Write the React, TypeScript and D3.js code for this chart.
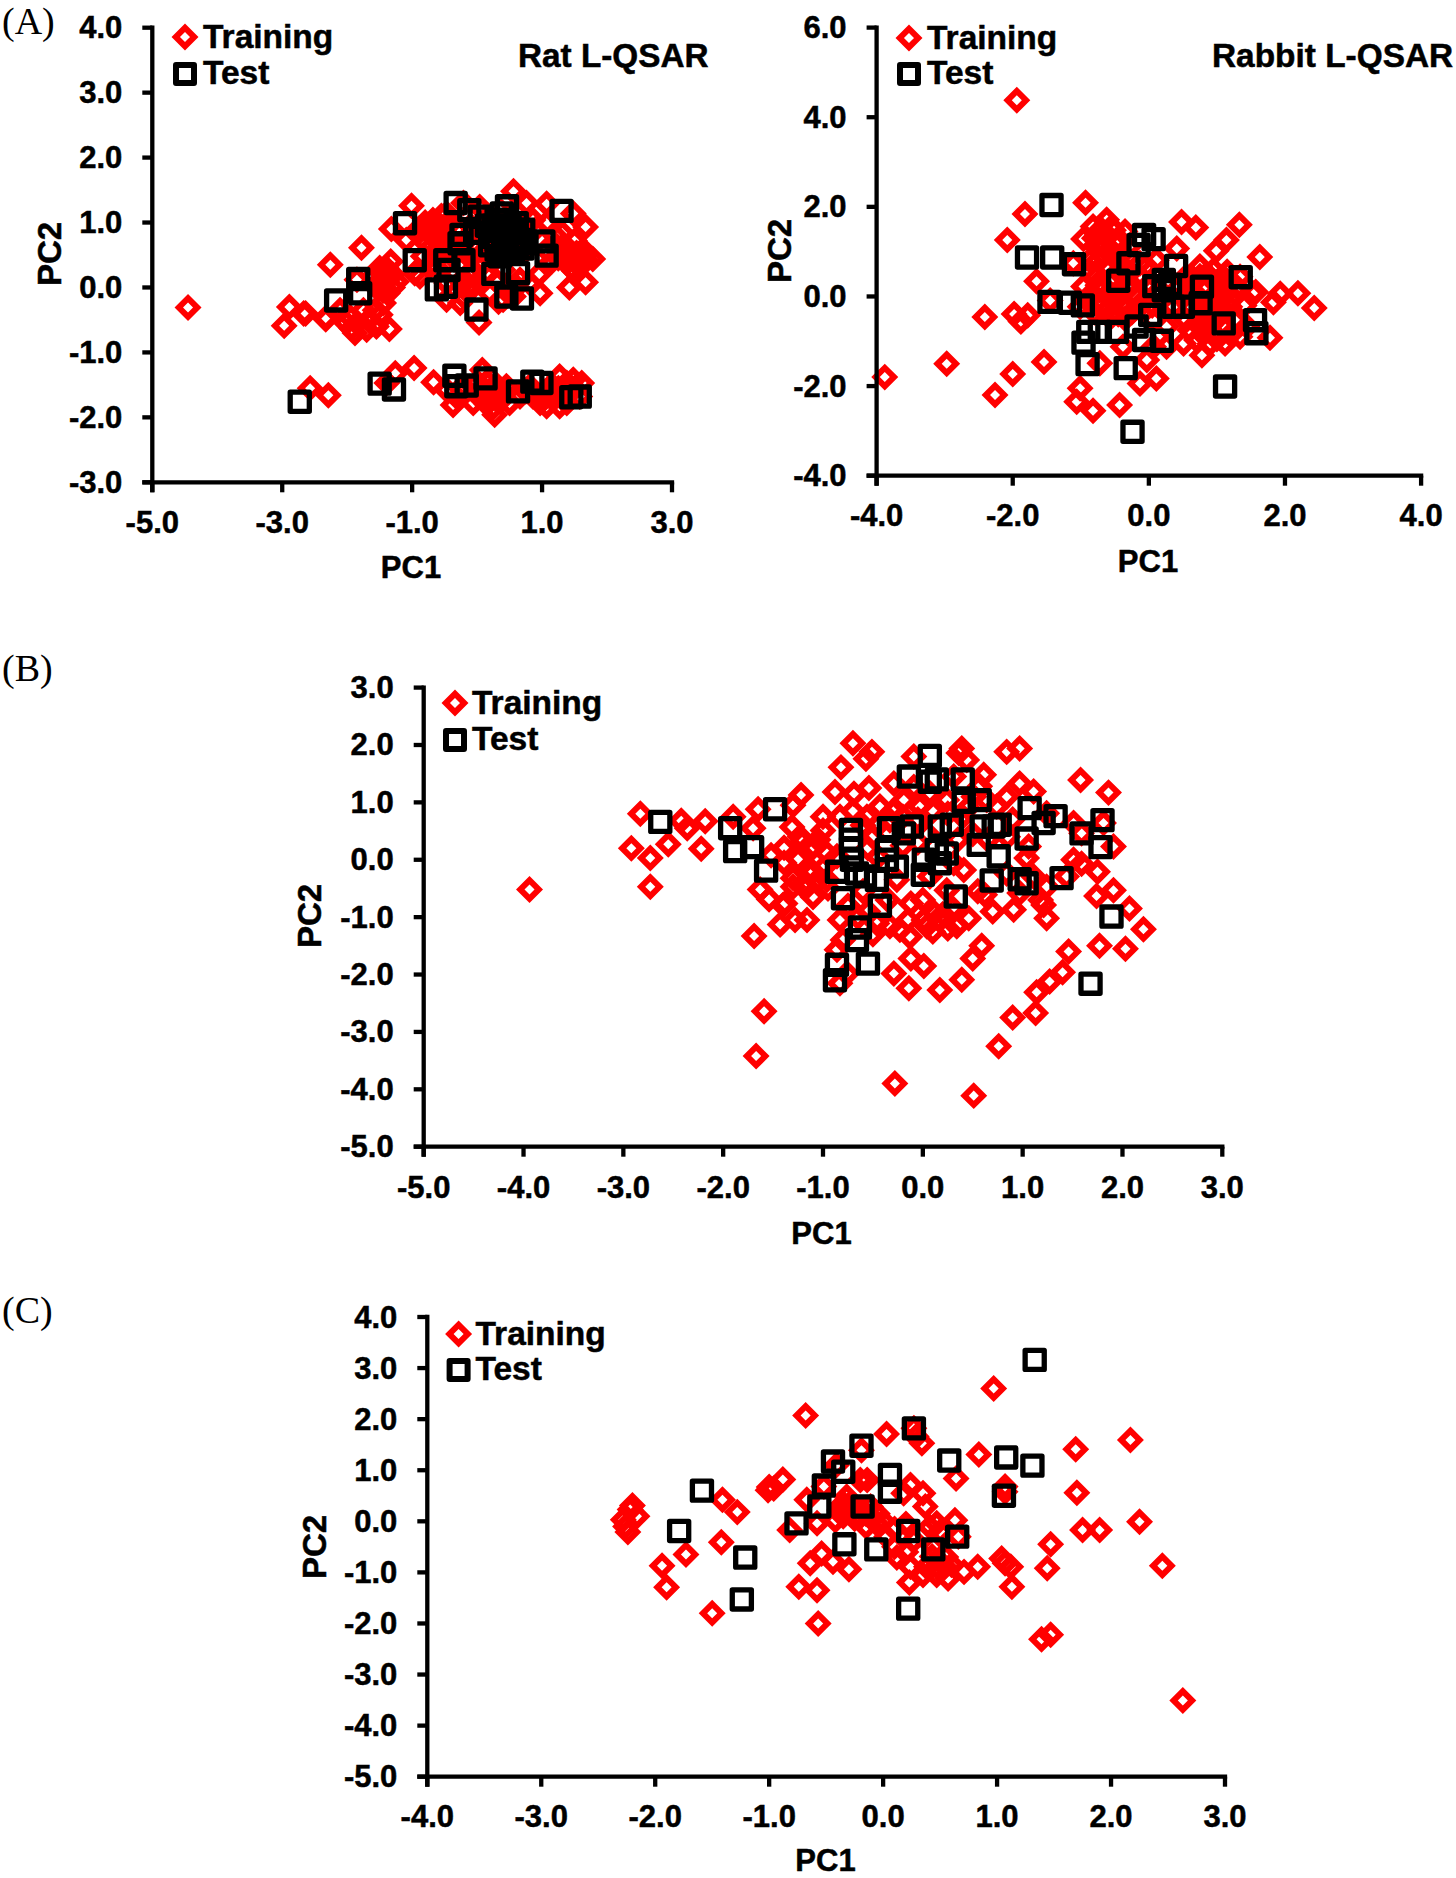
import React from "react";
import * as d3 from "d3";

type P = [number, number];

const ratTraining: P[] = [[-4.45,-0.31],[-2.89,-0.30],[-2.97,-0.59],[-2.67,-0.40],[-2.33,-0.49],[-2.26,0.35],[-1.78,0.61],[-2.64,-0.40],[-2.33,-0.47],[-1.93,-0.63],[-1.67,-0.50],[-1.49,-0.42],[-1.35,-0.64],[-1.44,-0.24],[-1.38,-0.09],[-1.42,0.07],[-1.37,0.22],[-1.33,0.40],[-1.24,0.09],[-1.60,0.17],[-1.85,0.12],[-2.06,-0.50],[-1.96,-0.45],[-2.11,-0.35],[-1.88,-0.70],[-1.57,-0.35],[-1.01,1.26],[-1.32,0.90],[-1.09,0.73],[-0.96,0.22],[-0.88,0.17],[-0.83,0.94],[-0.68,1.04],[-0.62,0.78],[-0.78,0.68],[-0.93,0.84],[-0.57,0.48],[-0.47,1.14],[-0.21,1.30],[0.04,1.24],[-0.16,0.73],[-0.32,0.89],[-0.83,0.48],[-0.70,0.63],[-0.47,0.07],[-0.47,-0.19],[-0.26,-0.24],[-0.11,0.17],[-0.06,0.01],[-0.21,-0.14],[0.04,0.07],[0.20,-0.09],[0.33,-0.22],[0.03,-0.54],[0.56,1.48],[0.56,1.04],[0.35,1.19],[0.76,1.30],[1.07,1.29],[0.86,1.04],[1.07,0.99],[1.48,1.14],[1.67,0.93],[1.31,0.84],[1.50,0.72],[1.63,0.58],[1.78,0.44],[1.68,0.42],[1.43,0.42],[1.53,0.53],[1.38,0.53],[1.58,0.32],[1.42,0.0],[1.67,0.08],[0.97,-0.09],[0.56,-0.14],[0.81,0.07],[0.66,0.12],[0.40,0.27],[0.50,0.48],[0.76,0.58],[1.07,0.58],[1.22,0.63],[0.10,0.37],[0.30,0.78],[0.0,0.63],[-0.26,0.37],[0.61,0.01],[0.40,-0.19]];
const ratTrainingDense: P[] = [[-0.9,0.9],[-0.8,1.0],[-0.75,0.85],[-0.7,0.95],[-0.6,0.95],[-0.55,1.1],[-0.5,0.85],[-0.45,0.95],[-0.4,1.05],[-0.35,0.7],[-0.55,0.65],[-0.65,0.55],[-0.72,0.35],[-0.62,0.3],[-0.5,0.55],[-0.4,0.5],[-0.3,0.55],[-0.2,0.55],[-0.1,0.45],[0.0,0.35],[0.1,0.55],[0.2,0.5],[-0.1,0.95],[0.05,0.85],[0.15,1.0],[0.25,1.1],[0.15,0.7],[-0.05,0.25],[0.15,0.2],[0.3,0.1],[-0.35,0.2],[-0.25,0.1],[-0.15,0.0],[-1.5,0.1],[-1.45,0.2],[-1.5,0.3],[-1.4,0.3],[-1.3,0.2],[-1.3,0.0],[-1.45,-0.05],[-1.55,0.0],[-1.75,-0.35],[-1.85,-0.55],[-1.7,-0.65],[-1.55,-0.6],[1.45,0.3],[1.55,0.42],[1.65,0.5],[1.4,0.6],[1.35,0.45],[1.5,0.25],[1.25,0.45],[1.15,0.4],[1.2,0.8],[0.9,0.9],[0.95,0.2]];
const ratTrainingLower: P[] = [[-0.97,-1.24],[-1.26,-1.32],[-1.39,-1.47],[-0.67,-1.46],[-0.37,-1.81],[-0.47,-1.58],[-0.06,-1.52],[0.08,-1.27],[0.27,-1.96],[0.10,-1.73],[0.30,-1.73],[0.20,-1.58],[0.45,-1.52],[0.50,-1.78],[0.66,-1.68],[0.86,-1.68],[0.97,-1.78],[1.27,-1.37],[1.48,-1.42],[1.61,-1.47],[1.17,-1.68],[1.38,-1.78],[1.58,-1.68],[1.38,-1.47],[1.07,-1.83],[1.27,-1.83],[0.81,-1.52],[-0.06,-1.78],[-2.57,-1.55],[-2.29,-1.66],[0.0,-1.45],[0.05,-1.6],[0.0,-1.65],[0.15,-1.45],[0.15,-1.8],[0.25,-1.85],[0.35,-1.6],[0.4,-1.7],[0.2,-1.7],[0.3,-1.5],[-0.3,-1.7],[-0.25,-1.55],[1.05,-1.6],[1.15,-1.5],[1.25,-1.55],[1.35,-1.65],[1.45,-1.6],[1.5,-1.55],[1.0,-1.7],[0.75,-1.6]];
const ratTest: P[] = [[-1.11,0.99],[-0.33,1.30],[-0.12,1.19],[0.04,1.09],[0.46,1.25],[1.30,1.18],[-0.96,0.42],[-1.83,0.13],[-1.80,-0.09],[-2.17,-0.20],[-0.62,-0.03],[-0.48,0.01],[-0.49,0.42],[-0.44,0.27],[-0.21,0.42],[-0.24,0.81],[-0.03,0.84],[-0.27,0.68],[-0.01,-0.34],[0.25,0.21],[0.63,0.22],[0.45,-0.14],[0.69,-0.17],[1.07,0.49],[1.02,0.71],[0.71,0.89],[0.30,1.04],[0.46,1.04],[0.61,0.99],[0.35,0.89],[0.50,0.84],[0.66,0.73],[0.30,0.73],[0.46,0.68],[0.61,0.63],[0.30,0.58],[0.46,0.53],[0.76,0.68],[0.35,0.48],[0.56,0.89],[0.38,1.14],[0.22,0.78],[0.15,0.95],[0.2,0.65],[0.4,0.95],[0.55,0.75],[0.4,0.6],[0.25,0.95],[0.55,0.55],[0.5,0.95],[0.7,0.6],[-1.50,-1.48],[-1.28,-1.57],[-0.35,-1.36],[-0.32,-1.52],[-0.16,-1.51],[0.13,-1.40],[0.63,-1.60],[0.85,-1.45],[0.99,-1.47],[1.45,-1.69],[1.58,-1.68],[-2.73,-1.76]];

const rabbitTraining: P[] = [[-1.94,4.38],[-3.88,-1.80],[-2.97,-1.50],[-2.41,-0.46],[-2.26,-2.20],[-2.0,-1.73],[-1.54,-1.46],[-2.08,1.26],[-1.82,1.84],[-1.65,0.34],[-1.98,-0.39],[-1.78,-0.42],[-1.88,-0.56],[2.43,-0.26],[2.19,0.07],[1.93,0.06],[1.83,-0.13],[1.78,-0.92],[1.63,0.88],[1.57,0.10],[1.33,1.60],[0.69,1.54],[0.48,1.66],[-0.93,2.09],[-1.01,-2.05],[-1.06,-2.35],[-0.82,-2.55],[-0.43,-2.42],[0.11,-1.83],[-0.13,-1.94],[-0.03,-1.42],[-0.38,-1.12],[-0.72,-1.49],[-0.82,1.56],[-0.62,1.71],[-0.96,1.28],[-0.52,1.48],[-0.43,1.26],[-0.77,1.11],[-0.62,1.34],[-0.87,0.81],[-0.67,0.89],[-0.52,0.96],[-1.11,0.74],[-0.77,0.44],[-0.96,0.22],[-0.72,0.14],[-0.52,0.37],[-0.91,-0.08],[-0.72,-0.23],[-0.52,-0.15],[-1.45,-0.09],[-1.01,-0.23],[-0.38,-0.23],[-0.18,0.0],[-0.03,0.22],[-0.33,0.22],[0.41,1.07],[1.14,1.26],[0.99,1.02],[1.34,0.44],[0.75,0.67],[0.95,0.59],[1.09,0.44],[0.85,0.22],[0.99,0.07],[1.14,0.29],[0.65,0.07],[0.46,0.22],[0.80,-0.23],[1.04,-0.30],[1.19,-0.23],[0.55,-0.53],[0.75,-0.67],[0.95,-0.82],[0.51,-1.05],[0.78,-1.31],[1.12,-1.05],[0.90,-1.05],[1.34,-0.90],[0.26,-1.12],[0.07,-1.12],[0.70,-0.97],[0.26,-0.67],[0.07,-0.53],[0.36,-0.23],[1.44,-0.67],[1.27,-0.53],[1.53,0.07],[-0.13,0.74],[-0.03,0.67],[0.11,0.81],[-0.43,0.74],[0.16,0.14]];
const rabbitTrainingDense: P[] = [[-0.8,1.3],[-0.75,0.8],[-0.7,1.5],[-0.65,1.15],[-0.6,0.65],[-0.55,1.55],[-0.5,1.2],[-0.45,0.55],[-0.4,0.95],[-0.35,1.45],[-0.3,1.1],[-0.3,0.5],[-0.25,0.25],[-0.85,0.55],[-0.75,0.25],[-0.65,0.2],[-0.6,0.05],[-0.5,0.05],[-0.4,0.1],[-0.85,0.05],[-0.8,-0.35],[-0.65,-0.35],[-0.55,-0.45],[-0.45,-0.4],[-0.35,-0.5],[-0.25,-0.35],[-0.15,-0.25],[-0.05,-0.05],[0.05,-0.2],[-0.1,0.4],[0.1,0.45],[0.55,0.45],[0.65,0.35],[0.75,0.45],[0.85,0.5],[0.95,0.35],[1.05,0.2],[1.15,0.1],[1.2,-0.05],[1.05,-0.1],[0.9,-0.1],[0.75,-0.1],[0.6,-0.2],[0.7,-0.4],[0.85,-0.45],[1.0,-0.5],[1.1,-0.65],[0.9,-0.65],[0.6,-0.75],[0.8,-0.85],[1.0,-0.95],[1.2,-0.85],[1.15,0.55],[1.3,0.2],[1.4,-0.2],[0.55,0.05]];
const rabbitTest: P[] = [[-1.43,2.04],[-1.79,0.87],[-1.42,0.87],[-1.10,0.72],[-1.46,-0.12],[-1.16,-0.14],[-0.97,-0.20],[-0.89,-0.79],[-0.96,-1.03],[-0.90,-1.51],[-0.34,-1.60],[-0.24,-3.02],[1.12,-2.01],[-0.07,1.37],[0.07,1.28],[-0.15,1.15],[-0.30,0.74],[-0.45,0.35],[0.08,0.23],[0.22,0.37],[0.40,0.68],[0.31,0.26],[0.78,0.22],[0.76,-0.15],[0.50,-0.23],[0.36,-0.23],[0.02,-0.41],[-0.18,-0.67],[-0.47,-0.79],[-0.72,-0.79],[-0.07,-0.97],[0.19,-0.99],[1.10,-0.60],[1.35,0.43],[1.56,-0.53],[1.58,-0.82],[0.22,0.14]];

const humanTraining: P[] = [[-3.94,-0.52],[-2.83,0.80],[-2.92,0.20],[-2.73,0.03],[-2.55,0.27],[-2.73,-0.47],[-2.42,0.68],[-2.36,0.55],[-2.18,0.67],[-2.22,0.19],[-1.90,0.75],[-1.65,0.88],[-1.70,0.55],[-1.22,1.13],[-1.30,0.95],[-1.31,0.57],[-1.0,0.51],[-1.39,0.21],[-1.21,0.31],[-1.12,0.18],[-1.25,0.01],[-1.52,0.08],[-1.39,-0.05],[-1.12,-0.21],[-1.30,-0.32],[-1.21,-0.45],[-1.10,-0.65],[-1.63,-0.52],[-1.54,-0.69],[-1.40,-0.79],[-1.43,-1.13],[-1.28,-1.05],[-1.16,-1.05],[-1.69,-1.33],[-1.59,-2.64],[-1.67,-3.42],[-0.28,-3.90],[-0.88,1.18],[-0.70,2.03],[-0.51,1.88],[-0.57,1.76],[-0.82,1.61],[-0.69,1.15],[-0.54,1.25]];
const humanTrainingRight: P[] = [[0.51,-4.11],[0.76,-3.25],[0.90,-2.75],[1.13,-2.67],[1.14,-2.31],[1.27,-2.12],[1.40,-1.96],[1.46,-1.60],[2.03,-1.55],[1.77,-1.50],[2.21,-1.21],[2.07,-0.85],[1.91,-0.53],[1.74,-0.63],[1.75,-0.21],[1.59,-0.07],[1.86,1.17],[1.58,1.39],[0.97,1.94],[0.84,1.88],[0.39,1.94],[0.36,1.86],[0.44,1.74],[-0.43,0.93],[-0.29,1.33],[-0.19,1.04],[-0.09,1.80],[-0.03,0.93],[0.61,1.48],[0.57,1.28],[0.97,1.33],[0.84,1.10],[1.11,1.19],[0.74,0.93],[1.24,0.81],[1.51,0.64],[1.06,0.23],[1.04,0.03],[1.59,0.46],[1.44,-0.29],[1.24,-0.47],[1.21,-0.79],[1.24,-1.02],[0.91,-0.87],[0.62,-0.61],[0.24,-0.53],[-0.12,-0.76],[0.46,-1.02],[0.34,-1.16],[0.12,-0.93],[0.04,-1.16],[0.17,-1.05],[0.01,-1.05],[-0.23,-1.22],[-0.13,-1.34],[-0.33,-1.16],[-0.46,-1.11],[-0.83,-1.05],[-0.80,-1.40],[-0.86,-1.57],[0.59,-1.50],[0.50,-1.72],[0.39,-2.09],[0.17,-2.27],[-0.14,-2.24],[-0.29,-1.98],[0.01,-1.85],[-0.12,-1.72],[-0.83,-2.15],[-0.76,-1.98],[-0.26,-0.35],[0.07,-0.29],[0.41,-0.18],[0.31,-0.06],[0.84,-0.24],[1.11,-0.29],[0.97,-0.58],[1.18,-0.70],[1.51,0.0],[1.91,0.23],[1.81,0.64],[-0.09,1.27],[0.07,1.16],[0.31,1.45],[0.51,1.10],[0.64,1.04],[0.24,1.04],[-0.33,0.69],[-0.56,0.75],[-0.83,0.75],[-0.96,0.11],[-0.96,-0.35],[-0.86,0.06],[-1.23,0.40],[-1.10,0.23],[-1.10,-0.21],[-1.30,-0.47],[-1.16,-0.47],[-1.38,-0.76]];
const humanTrainingDense: P[] = [[-1.05,0.35],[-1.0,-0.15],[-1.05,-0.35],[-0.95,-0.5],[-1.0,0.75],[-0.7,0.85],[-0.6,0.6],[-0.45,0.6],[-0.5,0.4],[-0.3,0.85],[-0.2,0.75],[-0.05,0.7],[0.1,0.85],[0.25,0.8],[0.4,0.75],[-0.55,0.2],[-0.45,0.05],[-0.2,0.25],[-0.05,0.3],[0.05,0.45],[0.35,0.35],[0.5,0.45],[0.65,0.35],[0.85,0.4],[0.9,0.7],[0.45,0.9],[-0.6,-0.55],[-0.75,-0.8],[-0.55,-0.9],[-0.35,-0.7],[0.0,-0.7],[0.3,-0.85],[0.25,-1.2],[0.1,-1.25],[0.2,-0.95],[-0.15,-1.05],[-0.5,-1.3],[-0.65,-1.0],[0.7,-0.9],[0.55,-0.55]];
const humanTest: P[] = [[0.07,1.81],[-0.14,1.45],[0.07,1.36],[0.14,1.40],[0.40,1.40],[0.41,1.01],[0.57,1.04],[1.07,0.90],[1.21,0.64],[1.33,0.76],[1.59,0.46],[1.80,0.69],[1.78,0.22],[1.89,-0.99],[1.68,-2.16],[1.39,-0.32],[1.04,-0.41],[0.97,-0.34],[0.69,-0.36],[0.33,-0.64],[0.76,0.06],[0.56,0.26],[1.04,0.37],[0.71,0.58],[0.77,0.61],[0.59,0.58],[0.29,0.61],[0.17,0.58],[-0.72,0.52],[-0.72,0.35],[-0.72,0.20],[-0.71,0.0],[-0.34,0.55],[-0.11,0.58],[-0.19,0.46],[-0.36,0.17],[-0.36,0.0],[-0.26,-0.12],[0.0,-0.26],[0.01,0.0],[0.17,-0.06],[0.24,0.11],[0.14,0.17],[-0.86,-0.21],[-0.66,-0.24],[-0.46,-0.35],[-0.58,-0.29],[-0.80,-0.67],[-0.43,-0.80],[-0.63,-1.18],[-0.66,-1.40],[-0.86,-1.83],[-0.88,-2.10],[-0.55,-1.81],[-2.63,0.66],[-1.48,0.88],[-1.93,0.55],[-1.88,0.15],[-1.71,0.22],[-1.57,-0.19]];

const mouseTraining: P[] = [[0.97,2.60],[-0.68,2.07],[0.03,1.71],[0.34,1.53],[0.29,1.66],[0.27,1.82],[0.84,1.31],[1.69,1.41],[2.17,1.59],[1.70,0.56],[1.07,0.58],[1.07,0.68],[0.64,0.84],[-0.19,1.39],[-0.41,1.10],[-0.88,0.82],[-0.96,0.64],[-1.01,0.61],[-0.20,0.81],[-0.14,0.81],[0.24,0.71],[0.35,0.55],[0.37,0.29],[0.18,0.55],[-0.52,0.68],[-0.67,0.42],[-0.29,0.35],[-0.38,0.22],[-0.32,0.48],[-0.20,0.09],[-0.06,-0.04],[-0.11,0.29],[-0.42,0.02],[-0.58,-0.04],[-0.82,-0.17],[0.03,-0.30],[0.27,-0.37],[0.41,-0.11],[0.63,0.02],[0.50,-0.20],[0.47,-0.04],[0.66,-0.30],[1.47,-0.45],[1.75,-0.17],[1.90,-0.17],[2.25,-0.01],[2.45,-0.87],[1.44,-0.92],[1.13,-1.28],[1.07,-0.82],[1.04,-0.73],[1.12,-0.89],[0.83,-0.89],[0.71,-0.99],[0.57,-1.12],[0.47,-1.05],[0.35,-1.05],[0.23,-1.20],[0.24,-0.89],[0.12,-0.71],[-0.30,-0.94],[-0.44,-0.79],[-0.54,-0.63],[-0.64,-0.82],[-0.74,-1.28],[-0.58,-1.35],[-0.57,-2.00],[1.39,-2.31],[1.47,-2.22],[2.63,-3.51],[0.44,-0.50],[0.38,-0.89],[0.43,-0.69],[0.54,-0.89],[0.47,-0.89],[-2.20,0.31],[-2.22,0.23],[-2.16,0.10],[-2.28,0.03],[-2.24,-0.21],[-2.26,-0.10],[-1.41,0.42],[-1.28,0.18],[-1.42,-0.41],[-1.73,-0.65],[-1.94,-0.87],[-1.90,-1.29],[-1.50,-1.80],[-1.0,0.67]];
const mouseTrainingDense: P[] = [[-0.3,0.2],[-0.25,0.05],[-0.35,0.1],[-0.2,0.25],[-0.15,0.15],[-0.1,0.05],[-0.25,0.3],[-0.35,0.35],[-0.05,0.15],[0.0,0.0],[-0.15,-0.1],[0.1,-0.15],[0.2,-0.05],[0.1,-0.5],[0.2,-0.6],[0.55,-0.7],[0.6,-0.85]];
const mouseTest: P[] = [[1.33,3.16],[0.27,1.82],[-0.19,1.48],[-0.44,1.17],[-0.35,0.97],[-0.52,0.70],[0.58,1.19],[1.08,1.25],[1.31,1.09],[1.06,0.50],[0.06,0.91],[0.06,0.58],[-0.56,0.29],[-0.18,0.29],[-0.76,-0.04],[-0.34,-0.45],[-0.06,-0.55],[0.22,-0.19],[0.65,-0.30],[0.44,-0.55],[0.22,-1.71],[-1.59,0.60],[-1.79,-0.19],[-1.21,-0.71],[-1.24,-1.53]];

const SANS = "'Liberation Sans', Arial, sans-serif";
const RED = "#ff0000";
const INK = "#000000";

const diamondPath = d3.symbol(d3.symbolSquare, 171)() as string;
const squarePath = d3.symbol(d3.symbolSquare, 365)() as string;
const legendSquarePath = d3.symbol(d3.symbolSquare, 324)() as string;
const DIAMOND_W = 6;
const SQUARE_W = 5.3;
const LEGEND_SQUARE_W = 6;

function Marks({ train, test, x, y }: { train: P[]; test: P[]; x: any; y: any }) {
  return (
    <g fill="none">
      {train.map((p, i) => (
        <path key={"t" + i} d={diamondPath} transform={`translate(${x(p[0])},${y(p[1])}) rotate(45)`} stroke={RED} strokeWidth={DIAMOND_W} />
      ))}
      {test.map((p, i) => (
        <path key={"s" + i} d={squarePath} transform={`translate(${x(p[0])},${y(p[1])})`} stroke={INK} strokeWidth={SQUARE_W} strokeLinejoin="round" />
      ))}
    </g>
  );
}

function Panel(props: {
  train: P[]; test: P[];
  xDomain: [number, number]; yDomain: [number, number];
  xRange: [number, number]; yRange: [number, number];
  xTicks: number[]; yTicks: number[];
  xLabelBase: number;
  pc1: [number, number]; pc2: [number, number];
  legend: [number, number, number, number];
  title?: string; titlePos?: [number, number]; titleSize?: number;
}) {
  const { train, test, xDomain, yDomain, xRange, yRange, xTicks, yTicks, xLabelBase, pc1, pc2, legend, title, titlePos, titleSize } = props;
  const x = d3.scaleLinear().domain(xDomain).range(xRange);
  const y = d3.scaleLinear().domain(yDomain).range(yRange);
  const f = d3.format(".1f");
  const [x0, x1] = xRange;
  const [yB, yT] = yRange;
  const sw = 4.3;
  const fmt = (v: number) => f(v).replace("\u2212", "-");
  const heavy = { stroke: INK, strokeWidth: 0.5 };
  return (
    <g fontFamily={SANS} fontWeight={700} fill={INK}>
      <Marks train={train} test={test} x={x} y={y} />
      <line x1={x0} x2={x0} y1={yT - sw / 2} y2={yB + 10} stroke={INK} strokeWidth={sw} />
      <line x1={x0 - 10} x2={x1 + sw / 2} y1={yB} y2={yB} stroke={INK} strokeWidth={sw} />
      {yTicks.map((t) => (
        <g key={"y" + t}>
          <line x1={x0 - 10} x2={x0} y1={y(t)} y2={y(t)} stroke={INK} strokeWidth={sw} />
          <text x={x0 - 30} y={y(t) + 10.5} textAnchor="end" fontSize={31} {...heavy}>{fmt(t)}</text>
        </g>
      ))}
      {xTicks.map((t) => (
        <g key={"x" + t}>
          <line x1={x(t)} x2={x(t)} y1={yB} y2={yB + 10} stroke={INK} strokeWidth={sw} />
          <text x={x(t)} y={xLabelBase} textAnchor="middle" fontSize={31} {...heavy}>{fmt(t)}</text>
        </g>
      ))}
      <text x={pc1[0]} y={pc1[1]} textAnchor="middle" fontSize={31} {...heavy}>PC1</text>
      <text transform={`translate(${pc2[0]},${pc2[1]}) rotate(-90)`} textAnchor="middle" fontSize={33} {...heavy}>PC2</text>
      <path d={diamondPath} transform={`translate(${legend[0]},${legend[1]}) rotate(45)`} fill="none" stroke={RED} strokeWidth={DIAMOND_W} />
      <path d={legendSquarePath} transform={`translate(${legend[0]},${legend[2]})`} fill="none" stroke={INK} strokeWidth={LEGEND_SQUARE_W} strokeLinejoin="round" />
      <text x={legend[3]} y={legend[1] + 11} fontSize={33.5} {...heavy}>Training</text>
      <text x={legend[3]} y={legend[2] + 10} fontSize={33.5} {...heavy}>Test</text>
      {title && titlePos ? <text x={titlePos[0]} y={titlePos[1]} fontSize={titleSize} {...heavy}>{title}</text> : null}
    </g>
  );
}

export default function App() {
  return (
    <svg width={1456} height={1878} viewBox="0 0 1456 1878" style={{ position: "absolute", left: 0, top: 0, display: "block", background: "#fff" }}>
      <g fontFamily="'Liberation Serif', 'Times New Roman', serif" fontSize={38} fill={INK}>
        <text x={2} y={34}>(A)</text>
        <text x={2} y={681}>(B)</text>
        <text x={2} y={1323}>(C)</text>
      </g>
      <Panel
        train={[...ratTraining, ...ratTrainingDense, ...ratTrainingLower]} test={ratTest}
        xDomain={[-5, 3]} yDomain={[-3, 4]} xRange={[152.3, 672]} yRange={[482.3, 27.7]}
        xTicks={[-5, -3, -1, 1, 3]} yTicks={[-3, -2, -1, 0, 1, 2, 3, 4]}
        xLabelBase={533} pc1={[411, 578]} pc2={[61, 254]} legend={[185, 37, 74, 203]}
        title="Rat L-QSAR" titlePos={[518, 67]} titleSize={33.3}
      />
      <Panel
        train={[...rabbitTraining, ...rabbitTrainingDense]} test={rabbitTest}
        xDomain={[-4, 4]} yDomain={[-4, 6]} xRange={[876.6, 1421.1]} yRange={[475.7, 27.6]}
        xTicks={[-4, -2, 0, 2, 4]} yTicks={[-4, -2, 0, 2, 4, 6]}
        xLabelBase={526} pc1={[1148, 572]} pc2={[791, 251]} legend={[909, 38, 74, 927]}
        title="Rabbit L-QSAR" titlePos={[1212, 67]} titleSize={33.4}
      />
      <Panel
        train={[...humanTraining, ...humanTrainingRight, ...humanTrainingDense]} test={humanTest}
        xDomain={[-5, 3]} yDomain={[-5, 3]} xRange={[423.7, 1222.3]} yRange={[1146.7, 687.6]}
        xTicks={[-5, -4, -3, -2, -1, 0, 1, 2, 3]} yTicks={[-5, -4, -3, -2, -1, 0, 1, 2, 3]}
        xLabelBase={1198} pc1={[821.5, 1244]} pc2={[321, 916]} legend={[455, 703, 740, 472]}
      />
      <Panel
        train={[...mouseTraining, ...mouseTrainingDense]} test={mouseTest}
        xDomain={[-4, 3]} yDomain={[-5, 4]} xRange={[427.3, 1225]} yRange={[1776.7, 1317]}
        xTicks={[-4, -3, -2, -1, 0, 1, 2, 3]} yTicks={[-5, -4, -3, -2, -1, 0, 1, 2, 3, 4]}
        xLabelBase={1827} pc1={[825.5, 1871]} pc2={[325.5, 1547]} legend={[458.6, 1334, 1370, 475.5]}
      />
    </svg>
  );
}
